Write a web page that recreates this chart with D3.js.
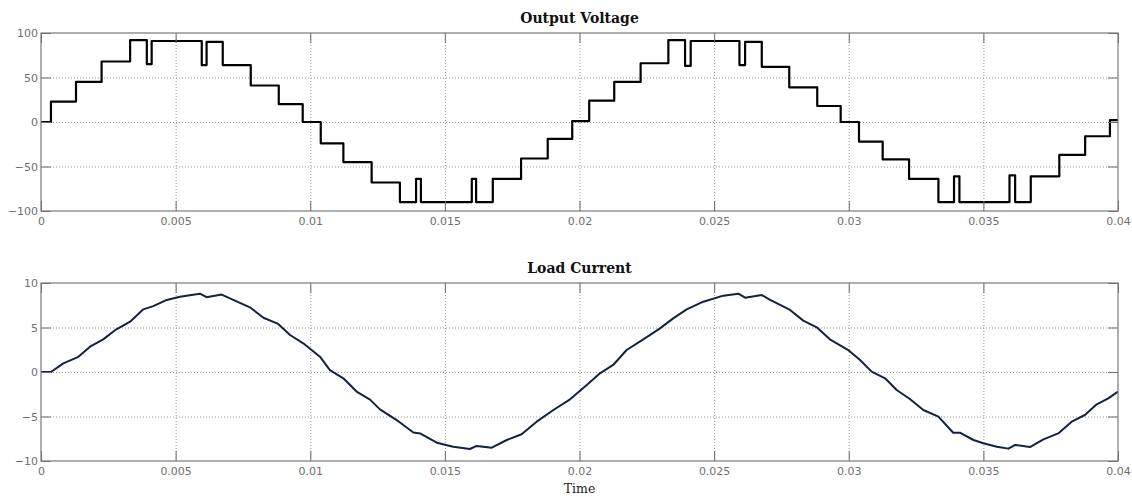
<!DOCTYPE html>
<html>
<head>
<meta charset="utf-8">
<script src="https://cdn.jsdelivr.net/npm/d3@7"></script>
<style>
  body { margin: 0; background: #fff; }
  .tick text { font-family: "DejaVu Sans", sans-serif; font-size: 11px; fill: #707070; }
  .grid line { stroke: #999; stroke-dasharray: 1,2; }
  .grid path { display: none; }
  .ax path { display: none; }
  .ax line { stroke: #6a6a6a; }
</style>
</head>
<body>
<div id="chart"></div>
<script>
// time axis (s)
const timeTicks = [0, 0.005, 0.01, 0.015, 0.02, 0.025, 0.03, 0.035, 0.04];
const voltTicks = [-100, -50, 0, 50, 100];
const currTicks = [-10, -5, 0, 5, 10];

// Output voltage: step start times and levels (V)
const voltTimes = [0, 0.00037, 0.0013, 0.00225, 0.00331, 0.00393, 0.00411, 0.00597, 0.00615, 0.00675,
  0.00779, 0.00883, 0.00972, 0.01039, 0.01123, 0.01228, 0.01333, 0.01393, 0.01411, 0.016,
  0.01616, 0.01678, 0.01783, 0.01882, 0.01973, 0.02036, 0.02129, 0.02227, 0.0233, 0.02392,
  0.02413, 0.02594, 0.02615, 0.02677, 0.02779, 0.02883, 0.0297, 0.03038, 0.03126, 0.03224,
  0.03333, 0.03391, 0.03411, 0.03597, 0.03618, 0.03676, 0.03782, 0.03878, 0.0397, 0.04];
const voltValues = [0, 23, 45, 68, 92, 65, 91, 64, 90, 64,
  41, 20, 0, -24, -45, -68, -90, -64, -90, -64,
  -90, -64, -41, -19, 1, 24, 45, 66, 92, 63,
  91, 64, 90, 62, 39, 18, 0, -22, -42, -64,
  -90, -61, -90, -60, -90, -61, -37, -16, 2, 2];

// Load current samples (A)
const currTimes = [0, 0.00037, 0.00083, 0.00139, 0.00182, 0.00231, 0.00275, 0.00331, 0.0038, 0.00417,
  0.00467, 0.00516, 0.0059, 0.00615, 0.00671, 0.00714, 0.00776, 0.00826, 0.00881, 0.00925,
  0.00974, 0.01036, 0.01073, 0.01123, 0.01172, 0.01222, 0.01259, 0.01321, 0.01383, 0.01408,
  0.0147, 0.01531, 0.01593, 0.01618, 0.01674, 0.0173, 0.01785, 0.01841, 0.01903, 0.01965,
  0.02027, 0.02076, 0.02125, 0.02175, 0.02237, 0.02299, 0.02348, 0.02398, 0.0246, 0.02534,
  0.0259, 0.02615, 0.02677, 0.02708, 0.02782, 0.02831, 0.02881, 0.0293, 0.02998, 0.03042,
  0.03085, 0.03135, 0.03178, 0.03227, 0.03277, 0.03333, 0.03388, 0.03413, 0.03463, 0.035,
  0.0355, 0.03593, 0.03618, 0.03673, 0.03723, 0.03778, 0.03828, 0.03877, 0.03921, 0.03964, 0.04];
const currValues = [0, 0, 0.97, 1.7, 2.85, 3.67, 4.7, 5.65, 7.04, 7.4,
  8.1, 8.46, 8.8, 8.4, 8.7, 8.1, 7.27, 6.1, 5.4, 4.16,
  3.22, 1.72, 0.22, -0.71, -2.2, -3.1, -4.2, -5.4, -6.8, -6.9,
  -7.94, -8.39, -8.65, -8.31, -8.5, -7.64, -7.0, -5.58, -4.27, -3.07,
  -1.46, -0.15, 0.79, 2.47, 3.67, 4.9, 6.03, 7.04, 7.9, 8.58,
  8.8, 8.35, 8.65, 8.1, 6.97, 5.77, 5.02, 3.67, 2.47, 1.35,
  0.04, -0.71, -2.02, -3.03, -4.27, -5.02, -6.82, -6.82, -7.64, -8.01,
  -8.39, -8.61, -8.2, -8.43, -7.57, -6.9, -5.58, -4.83, -3.63, -2.96, -2.2];

const width = 1132, height = 497;
const left = 41, right = 1118;

const svg = d3.select("#chart").append("svg")
  .attr("width", width)
  .attr("height", height);

function drawPanel(top, bottom, yTicks, title, times, values, color, stepped) {
  const x = d3.scaleLinear().domain([0, 0.04]).range([left, right]);
  const y = d3.scaleLinear().domain([yTicks[0], yTicks[yTicks.length - 1]]).range([bottom, top]);
  const w = right - left, h = bottom - top;
  const g = svg.append("g");

  // dotted grid
  g.append("g").attr("class", "grid")
    .attr("transform", "translate(0," + bottom + ")")
    .call(d3.axisBottom(x).tickValues(timeTicks.slice(1, -1)).tickSize(-h).tickFormat(""));
  g.append("g").attr("class", "grid")
    .attr("transform", "translate(" + left + ",0)")
    .call(d3.axisLeft(y).tickValues(yTicks.slice(1, -1)).tickSize(-w).tickFormat(""));

  // the data line
  const line = d3.line()
    .x((d, i) => x(times[i]))
    .y((d, i) => y(values[i]))
    .curve(stepped ? d3.curveStepAfter : d3.curveLinear);
  g.append("path")
    .datum(values)
    .attr("fill", "none")
    .attr("stroke", color)
    .attr("stroke-width", stepped ? 2.2 : 2)
    .attr("stroke-linejoin", "round")
    .attr("d", line);

  // axes with inward ticks
  const xb = g.append("g").attr("class", "ax")
    .attr("transform", "translate(0," + bottom + ")")
    .call(d3.axisBottom(x).tickValues(timeTicks).tickSizeInner(-10).tickSizeOuter(0)
      .tickFormat(d => d3.format("")(d)));
  xb.selectAll(".tick text").attr("dy", "0.71em").attr("y", 6);
  g.append("g").attr("class", "ax")
    .attr("transform", "translate(0," + top + ")")
    .call(d3.axisTop(x).tickValues(timeTicks).tickSizeInner(-10).tickSizeOuter(0).tickFormat(""));
  const yl = g.append("g").attr("class", "ax")
    .attr("transform", "translate(" + left + ",0)")
    .call(d3.axisLeft(y).tickValues(yTicks).tickSizeInner(-10).tickSizeOuter(0).tickFormat(d3.format("d")));
  yl.selectAll(".tick text").attr("x", -3);
  g.append("g").attr("class", "ax")
    .attr("transform", "translate(" + right + ",0)")
    .call(d3.axisRight(y).tickValues(yTicks).tickSizeInner(-10).tickSizeOuter(0).tickFormat(""));

  // box
  g.append("rect")
    .attr("x", left).attr("y", top)
    .attr("width", w).attr("height", h)
    .attr("fill", "none")
    .attr("stroke", "#7a7a7a")
    .attr("stroke-width", 1.2);

  g.append("text")
    .attr("x", (left + right) / 2)
    .attr("y", top - 10)
    .attr("text-anchor", "middle")
    .attr("font-family", "DejaVu Serif, serif")
    .attr("font-weight", "bold")
    .attr("font-size", "14px")
    .attr("fill", "#111")
    .text(title);
}

drawPanel(33, 211, voltTicks, "Output Voltage", voltTimes, voltValues, "#000", true);
drawPanel(283, 461, currTicks, "Load Current", currTimes, currValues, "#14213f", false);

svg.append("text")
  .attr("x", (left + right) / 2)
  .attr("y", 493)
  .attr("text-anchor", "middle")
  .attr("font-family", "DejaVu Serif, serif")
  .attr("font-size", "12.5px")
  .attr("fill", "#222")
  .text("Time");
</script>
</body>
</html>
